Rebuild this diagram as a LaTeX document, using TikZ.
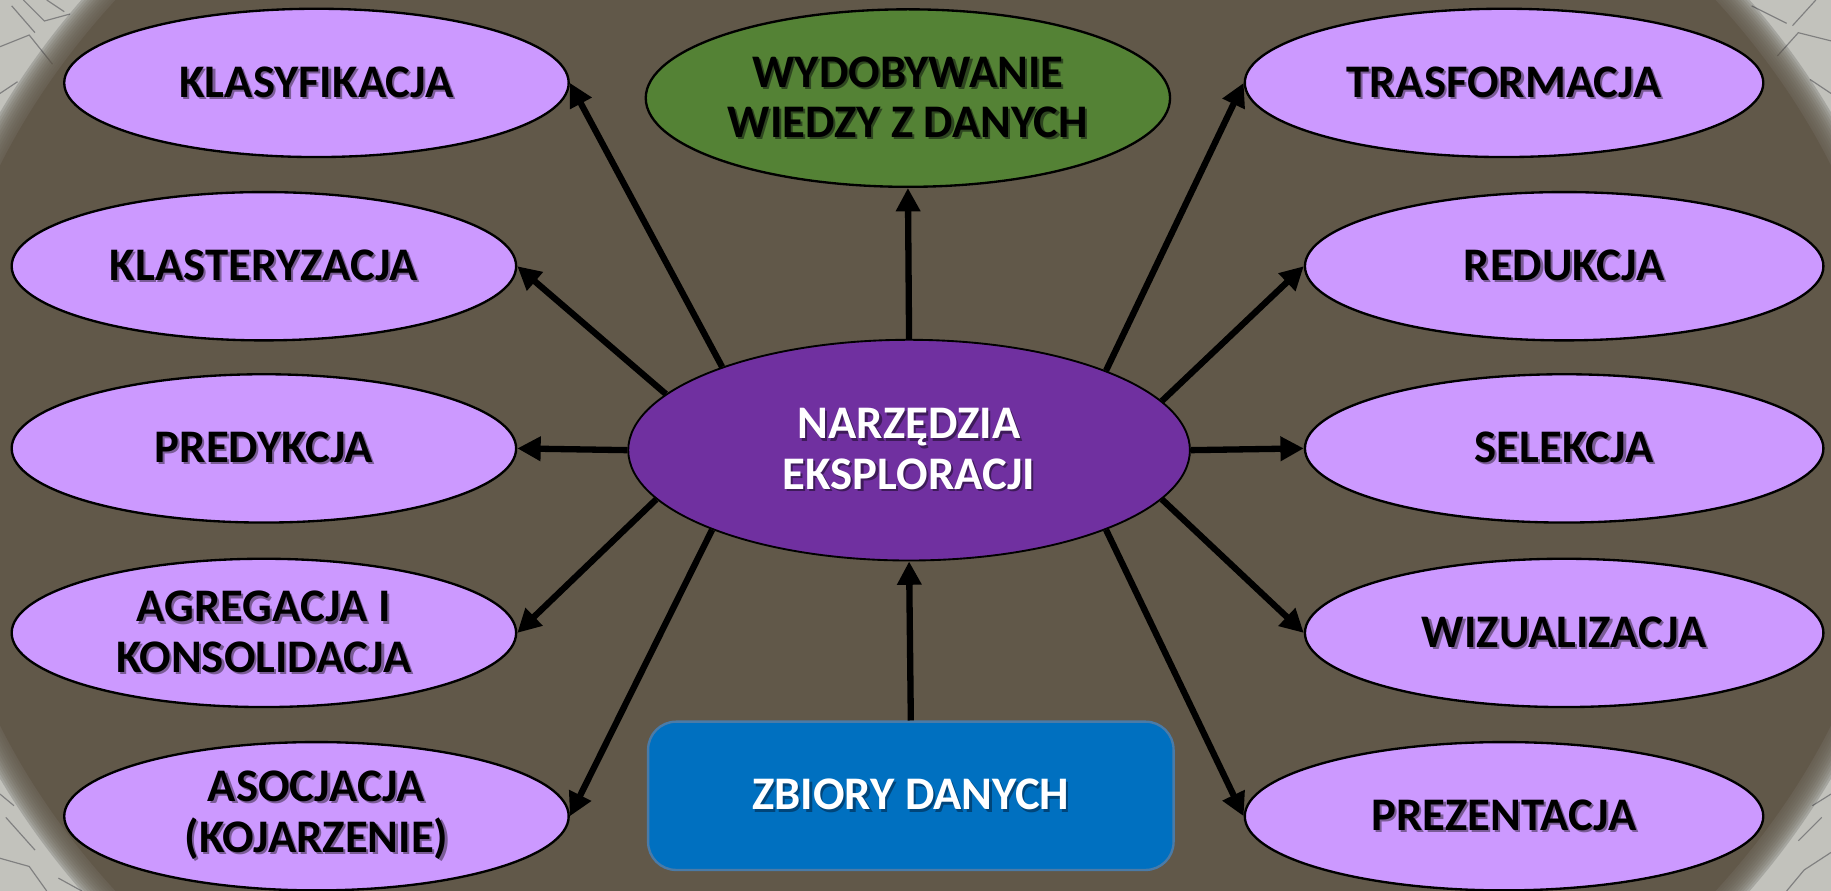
\documentclass[tikz,border=0pt]{standalone}
\usepackage{fontspec}
\setmainfont{Carlito}
\usetikzlibrary{arrows.meta,shapes.geometric}
\definecolor{bgbrown}{HTML}{615849}
\definecolor{stone}{HTML}{C2C2BC}
\definecolor{crack}{HTML}{808080}
\definecolor{lav}{HTML}{CC99FF}
\definecolor{grn}{HTML}{548235}
\definecolor{purp}{HTML}{7030A0}
\definecolor{blu}{HTML}{0070C0}
\definecolor{bluedge}{HTML}{4A7BA8}
\definecolor{shlav}{HTML}{7A5C96}
\definecolor{shgrn}{HTML}{2E4620}
\definecolor{shpur}{HTML}{3E1B5A}
\definecolor{shblu}{HTML}{00457A}
\newcommand\shtxt[2]{\makebox[0pt][l]{\kern0.9pt\raisebox{-0.9pt}{\textcolor{#1}{#2}}}#2}
\begin{document}
\begin{tikzpicture}[x=0.5pt,y=-0.5pt,
  lbl/.style={font=\fontsize{20}{21.5}\selectfont\bfseries, align=center, inner sep=0pt},
  lavL/.style={lbl, ellipse, draw=black, line width=1pt, fill=lav, minimum width=216pt, minimum height=63.5pt},
  lavR/.style={lavL, minimum width=222pt},
  arr/.style={-{Triangle[length=10pt,width=10pt]}, line width=2.7pt, black}]
\useasboundingbox (0,0) rectangle (1568,763);
% background
\begin{scope}
\clip (0,0) rectangle (1568,763);
\fill[stone] (0,0) rectangle (1568,763);
\draw[crack, line width=0.5pt] (0,40) -- (25,30) -- (45,55) (10,5) -- (30,28) (20,0) -- (38,18) -- (60,12) (0,80) -- (15,70) (40,0) -- (55,10);
\draw[crack, line width=0.5pt] (1568,35) -- (1540,28) -- (1522,48) (1555,0) -- (1535,22) (1500,5) -- (1530,20) (1568,80) -- (1550,68);
\draw[crack, line width=0.5pt] (0,735) -- (25,742) -- (40,763) (5,700) -- (30,728) (50,752) -- (70,763) (0,680) -- (12,690);
\draw[crack, line width=0.5pt] (1568,730) -- (1545,745) -- (1530,763) (1560,700) -- (1540,720) (1568,680) -- (1552,690);
\fill[black, opacity=0.15] (784,381.5) ellipse [x radius=432pt, y radius=339pt];
\foreach \i in {1,...,10}{
  \fill[bgbrown, opacity=0.17] (784,381.5) ellipse [x radius={421pt+\i*1pt}, y radius={328pt+\i*1pt}];
}
\fill[bgbrown] (784,381.5) ellipse [x radius=421pt, y radius=328pt];
\end{scope}
% nodes
\node[lavL] (klas) at (271,71) {\shtxt{shlav}{KLASYFIKACJA}};
\node[lavL] (klast) at (226,228) {\shtxt{shlav}{KLASTERYZACJA}};
\node[lavL] (pred) at (226,384) {\shtxt{shlav}{PREDYKCJA}};
\node[lavL] (agr) at (226,542) {\shtxt{shlav}{AGREGACJA I}\\\shtxt{shlav}{KONSOLIDACJA}};
\node[lavL] (asoc) at (271,699) {\shtxt{shlav}{ASOCJACJA}\\\shtxt{shlav}{(KOJARZENIE)}};
\node[lavR] (tras) at (1288,71) {\shtxt{shlav}{TRASFORMACJA}};
\node[lavR] (red) at (1339.5,228) {\shtxt{shlav}{REDUKCJA}};
\node[lavR] (sel) at (1339.5,384) {\shtxt{shlav}{SELEKCJA}};
\node[lavR] (wiz) at (1339.5,542) {\shtxt{shlav}{WIZUALIZACJA}};
\node[lavR] (prez) at (1288,699) {\shtxt{shlav}{PREZENTACJA}};
\node[lbl, ellipse, draw=black, line width=1pt, fill=grn, minimum width=224.5pt, minimum height=76pt] (wyd) at (777.5,84)
  {\shtxt{shgrn}{WYDOBYWANIE}\\\shtxt{shgrn}{WIEDZY Z DANYCH}};
\node[lbl, ellipse, draw=black, line width=0.8pt, fill=purp, text=white, minimum width=240.5pt, minimum height=94.5pt] (narz) at (778.5,385.5)
  {\shtxt{shpur}{NARZĘDZIA}\\\shtxt{shpur}{EKSPLORACJI}};
\node[lbl, rectangle, rounded corners=12pt, draw=bluedge, line width=1pt, fill=blu, text=white, minimum width=225pt, minimum height=63.5pt] (zb) at (780,681.5)
  {\shtxt{shblu}{ZBIORY DANYCH}};
% connectors
\draw[arr] (narz.156.7) -- (klas.east);
\draw[arr] (narz.167.4) -- (klast.east);
\draw[arr] (narz.west) -- (pred.east);
\draw[arr] (narz.191.8) -- (agr.east);
\draw[arr] (narz.202.5) -- (asoc.east);
\draw[arr] (narz.north) -- (wyd.south);
\draw[arr] (narz.22.9) -- (tras.west);
\draw[arr] (narz.11.9) -- (red.west);
\draw[arr] (narz.east) -- (sel.west);
\draw[arr] (narz.-11.7) -- (wiz.west);
\draw[arr] (narz.-22.4) -- (prez.west);
\draw[arr] (zb.north) -- (narz.south);
\end{tikzpicture}
\end{document}
